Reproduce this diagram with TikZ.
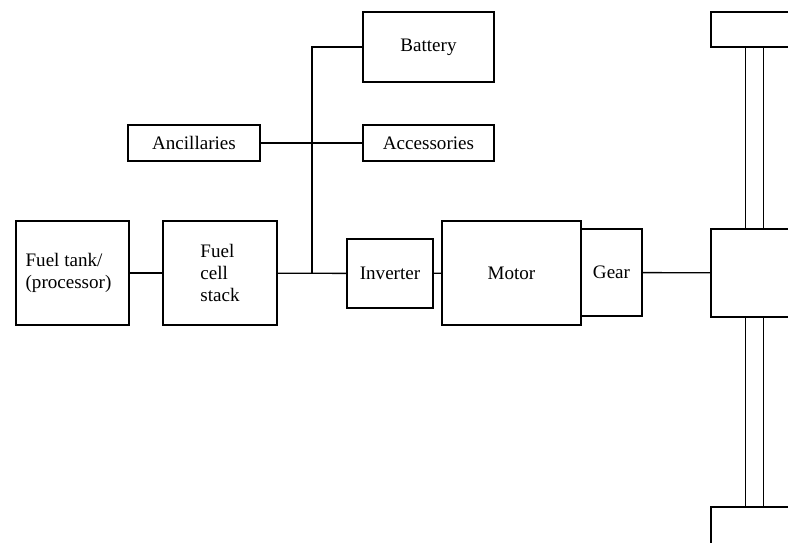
\documentclass[tikz,border=0pt]{standalone}
\usepackage{fontspec}
\setmainfont{Liberation Serif}
\usetikzlibrary{fit}
\begin{document}
\begin{tikzpicture}[x=0.75pt,y=-0.75pt,
  box/.style={draw,line width=1pt,inner sep=0pt},
  txt/.style={align=left,inner sep=0pt,
    font=\fontsize{14.3}{16.5}\selectfont},
  wire/.style={line width=1pt}]
\useasboundingbox (0,0) rectangle (788,542);
\clip (0,0) rectangle (788,542);
\node[box,fit={(16,221) (129,325)},label={[txt,xshift=-3pt]center:Fuel tank/\\(processor)}] (tank) {};
\node[box,fit={(163,221) (277,325)},label={[txt]center:Fuel\\cell\\stack}] (stack) {};
\node[box,fit={(347,239) (433,308)},label={[txt]center:Inverter}] (inv) {};
\node[box,fit={(442,221) (581,325)},label={[txt]center:Motor}] (motor) {};
\node[box,fit={(581,229) (642,316)},label={[txt]center:Gear}] (gear) {};
\node[box,fit={(363,12) (494,82)},label={[txt]center:Battery}] (bat) {};
\node[box,fit={(128,125) (260,161)},label={[txt]center:Ancillaries}] (anc) {};
\node[box,fit={(363,125) (494,161)},label={[txt]center:Accessories}] (acc) {};
\node[box,fit={(711,12) (820,47)}] (topw) {};
\node[box,fit={(711,229) (820,317)}] (hub) {};
\node[box,fit={(711,507) (820,560)}] (botw) {};
\coordinate (j) at (312,273);
\draw[wire] (tank) -- (stack);
\draw[wire] (stack) -- (inv);
\draw[wire] (j) |- (bat.west);
\draw[wire] (anc) -- (acc);
\draw[wire] (inv) -- (motor);
\draw[wire] (gear) -- (hub);
\foreach \s in {26.25pt,39.75pt}{
  \draw[wire] ([xshift=\s]topw.south west) -- ([xshift=\s]hub.north west);
  \draw[wire] ([xshift=\s]hub.south west) -- ([xshift=\s]botw.north west);
}
\end{tikzpicture}
\end{document}
